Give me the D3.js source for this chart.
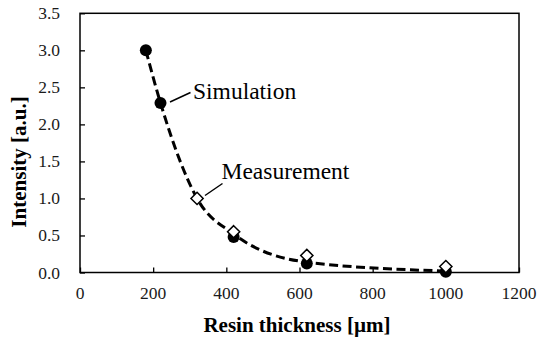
<!DOCTYPE html>
<html><head><meta charset="utf-8">
<script src="https://cdn.jsdelivr.net/npm/d3@7"></script>
<style>body{margin:0;background:#fff}svg{display:block}text{font-family:"Liberation Serif","Times New Roman",serif}</style>
</head><body><svg id="c" width="538" height="338"></svg>
<script>
const simThickness = [180, 220, 420, 620, 1000];
const simIntensity = [3.0, 2.29, 0.48, 0.12, 0.01];
const measThickness = [320, 420, 620, 1000];
const measIntensity = [1.0, 0.55, 0.23, 0.08];
const fitThickness = [180, 220, 320, 420, 620, 1000];
const fitIntensity = [3.0, 2.29, 1.0, 0.52, 0.14, 0.02];
const xTicks = [0, 200, 400, 600, 800, 1000, 1200];
const yTicks = [0, 0.5, 1.0, 1.5, 2.0, 2.5, 3.0, 3.5];
const labels = {sim: "Simulation", meas: "Measurement", x: "Resin thickness [µm]", y: "Intensity [a.u.]"};

const svg = d3.select("#c");
const m = {l: 80, r: 519, t: 13.3, b: 272.5};
const x = d3.scaleLinear().domain([0, 1200]).range([m.l, m.r]);
const y = d3.scaleLinear().domain([0, 3.5]).range([m.b, m.t]);

// tick marks via axes (labels drawn separately)
const xa = svg.append("g").attr("transform", `translate(0,${m.b})`)
  .call(d3.axisBottom(x).tickValues(xTicks).tickSizeInner(-5).tickSizeOuter(0).tickFormat(""));
const ya = svg.append("g").attr("transform", `translate(${m.l},0)`)
  .call(d3.axisLeft(y).tickValues(yTicks).tickSizeInner(-5).tickSizeOuter(0).tickFormat(""));
[xa, ya].forEach(a => {
  a.select(".domain").remove();
  a.selectAll("line").attr("stroke", "#000").attr("stroke-width", 1.3);
});
const fx = d3.format("d"), fy = d3.format(".1f");
svg.append("g").selectAll("text").data(xTicks).join("text")
  .attr("x", d => x(d)).attr("y", m.b + 26).attr("text-anchor", "middle")
  .attr("font-size", 17.5).attr("fill", "#1a1a1a").text(d => fx(d));
svg.append("g").selectAll("text").data(yTicks).join("text")
  .attr("x", m.l - 20).attr("y", d => y(d) + 6).attr("text-anchor", "end")
  .attr("font-size", 17.5).attr("fill", "#1a1a1a").text(d => fy(d));

svg.append("rect").attr("x", m.l).attr("y", m.t).attr("width", m.r - m.l).attr("height", m.b - m.t)
  .attr("fill", "none").attr("stroke", "#000").attr("stroke-width", 1.5);

const fit = fitThickness.map((t, i) => [t, fitIntensity[i]]);
svg.append("path").datum(fit)
  .attr("d", d3.line().x(d => x(d[0])).y(d => y(d[1])).curve(d3.curveMonotoneX))
  .attr("fill", "none").attr("stroke", "#000").attr("stroke-width", 3).attr("stroke-dasharray", "9,4.5");

svg.append("g").selectAll("circle").data(simThickness.map((t, i) => [t, simIntensity[i]])).join("circle")
  .attr("cx", d => x(d[0])).attr("cy", d => y(d[1])).attr("r", 6).attr("fill", "#000");

const dia = d3.symbol().type(d3.symbolDiamond2).size(95);
svg.append("g").selectAll("path").data(measThickness.map((t, i) => [t, measIntensity[i]])).join("path")
  .attr("transform", d => `translate(${x(d[0])},${y(d[1])})`)
  .attr("d", dia).attr("fill", "#fff").attr("stroke", "#000").attr("stroke-width", 1.5);

svg.append("line").attr("x1", 170).attr("y1", 102).attr("x2", 190.5).attr("y2", 92.5).attr("stroke", "#000").attr("stroke-width", 1.5);
svg.append("text").attr("x", 193).attr("y", 98.5).attr("font-size", 23.5).text(labels.sim);
svg.append("line").attr("x1", 205).attr("y1", 195.5).attr("x2", 222.5).attr("y2", 183.5).attr("stroke", "#000").attr("stroke-width", 1.5);
svg.append("text").attr("x", 221.5).attr("y", 178.5).attr("font-size", 23.5).text(labels.meas);

svg.append("text").attr("x", 297).attr("y", 332).attr("text-anchor", "middle").attr("font-size", 21).attr("font-weight", "bold").text(labels.x);
svg.append("text").attr("transform", "translate(26,162) rotate(-90)").attr("text-anchor", "middle").attr("font-size", 21).attr("font-weight", "bold").text(labels.y);
</script></body></html>
